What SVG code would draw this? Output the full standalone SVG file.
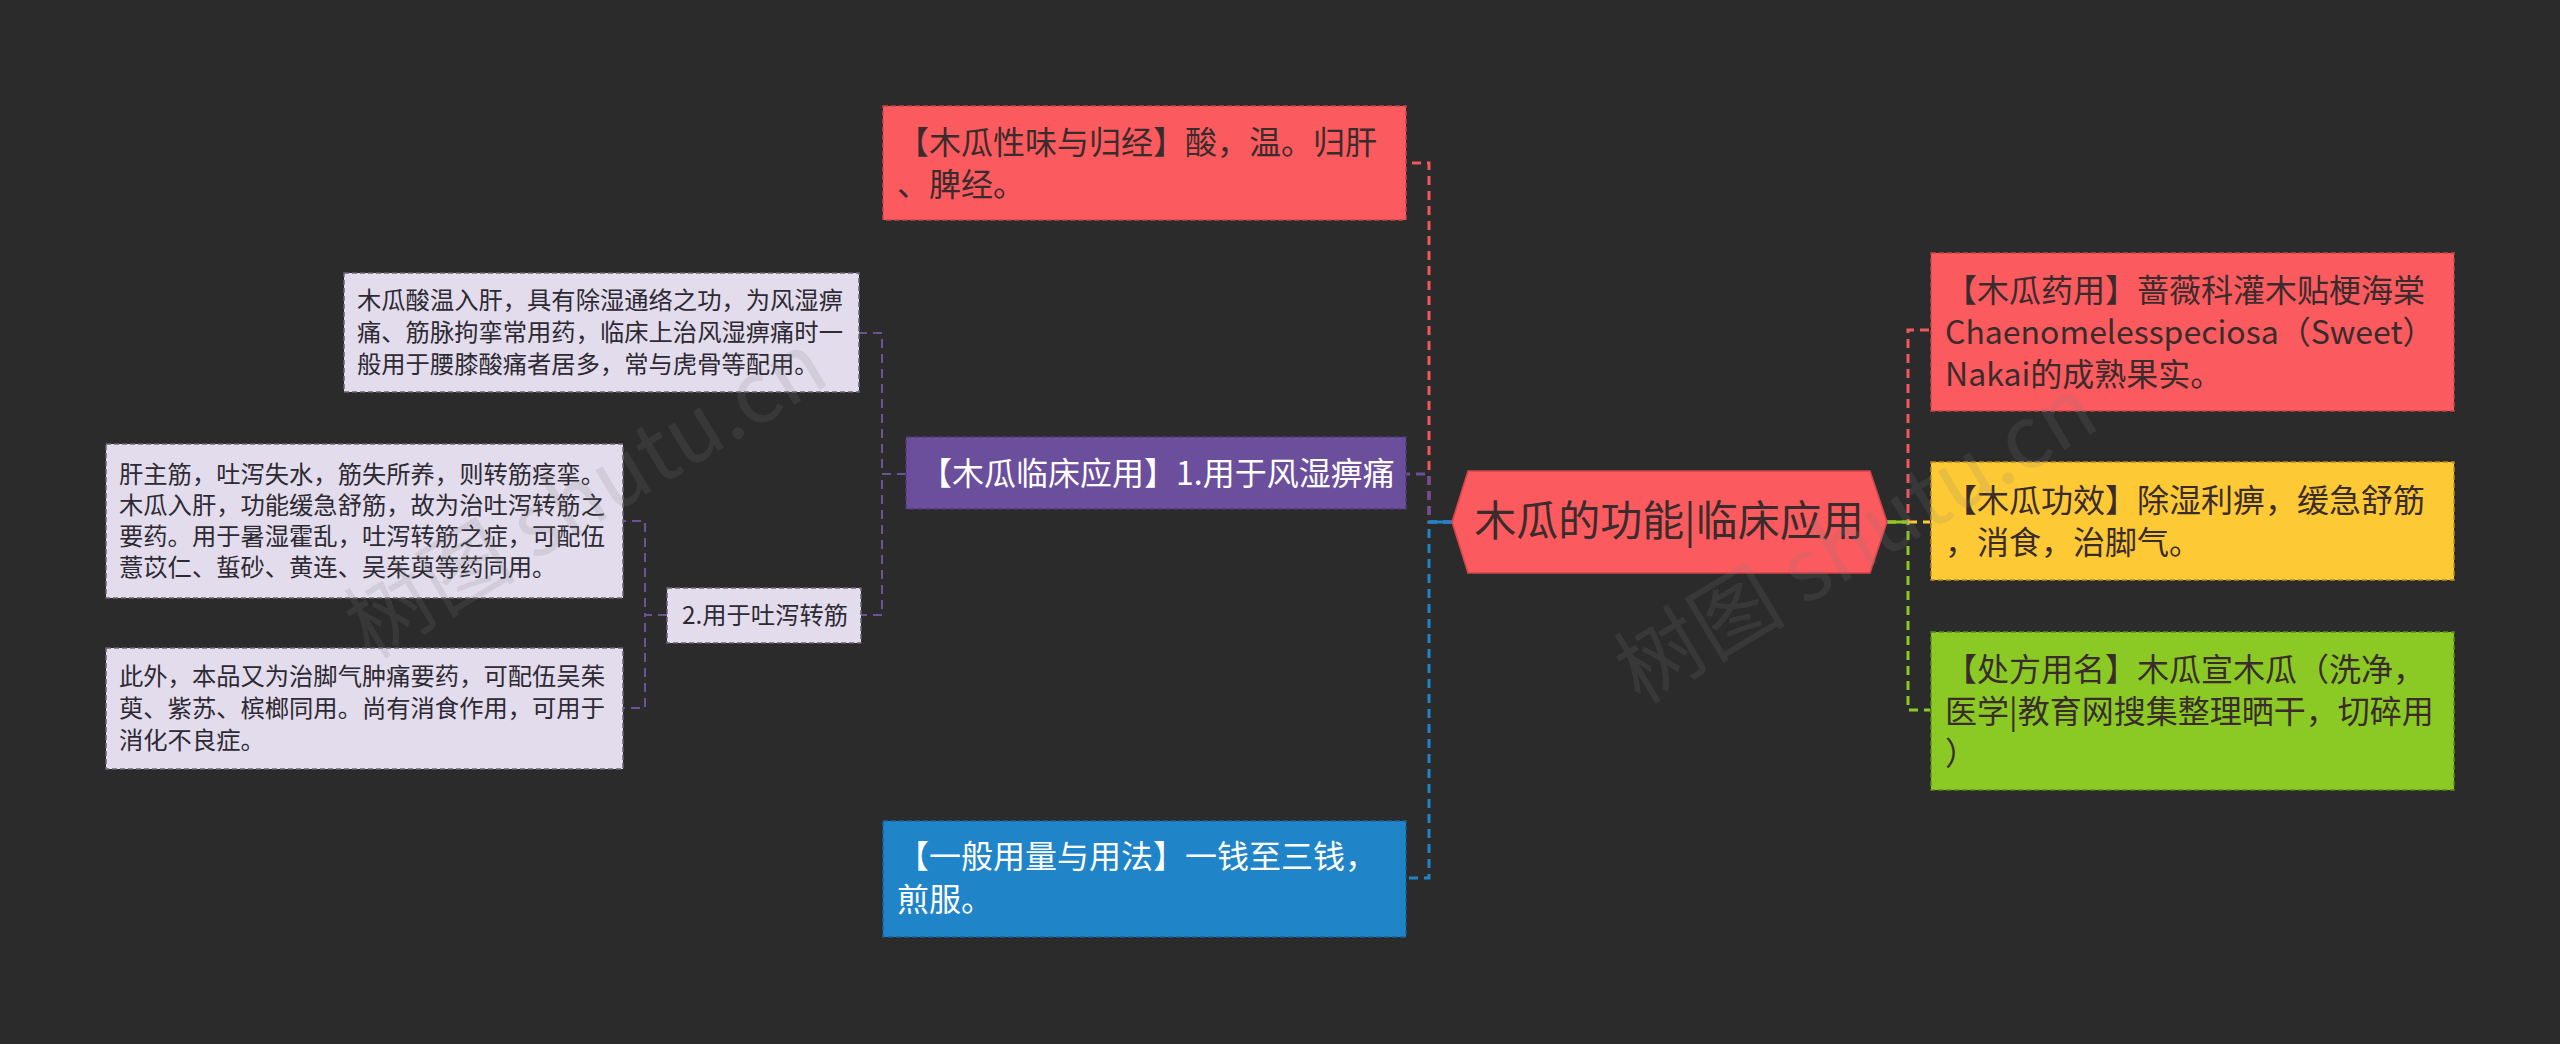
<svg xmlns="http://www.w3.org/2000/svg" width="2560" height="1044" viewBox="0 0 2560 1044">
<style>
text{font-family:"Noto Sans CJK SC","Noto Sans",sans-serif;}
.main{font-size:32px;}
.sub{font-size:24.3px;fill:#2e2a33;}
.dark{fill:#3a2c2c;}
.white{fill:#ffffff;}
.box{stroke-width:1.5;stroke-dasharray:5 3;}
.lt{fill:#e2dcec;stroke:#6a6470;}
.conn{fill:none;stroke-width:3;stroke-dasharray:9 6;}
.conn2{fill:none;stroke-width:2;stroke-dasharray:9 6;stroke:#6b5496;}
.wm{font-size:86px;fill:#808080;opacity:0.16;}
</style>
<rect width="2560" height="1044" fill="#2b2b2b"/>

<g id="connectors">
  <path class="conn" stroke="#f2575c" d="M1452 522 H1429 V163 H1406"/>
  <path class="conn" stroke="#6b4f9c" d="M1452 522 H1429 V474 H1406"/>
  <path class="conn" stroke="#1f84c8" d="M1452 522 H1429 V878 H1406"/>
  <line x1="1429" y1="522" x2="1452" y2="522" stroke="#1f84c8" stroke-width="3"/>
  <path class="conn" stroke="#f2575c" d="M1887 522 H1908 V330 H1930"/>
  <path class="conn" stroke="#8bc924" d="M1887 522 H1908 V710 H1930"/>
  <path class="conn" stroke="#fdc934" d="M1908 522 H1930"/>
  <line x1="1887" y1="522" x2="1908" y2="522" stroke="#8bc924" stroke-width="3"/>
  <path class="conn2" d="M906 474 H882 V333 H859"/>
  <path class="conn2" d="M906 474 H882 V615 H861"/>
  <path class="conn2" d="M667 615 H645 V521 H623"/>
  <path class="conn2" d="M667 615 H645 V708 H623"/>
</g>

<g id="center">
  <polygon points="1452,522 1468,471 1870,471 1887,522 1870,573 1468,573" fill="#fb5a5e" stroke="#d2464b" stroke-width="1.5"/>
  <text x="1669" y="536" text-anchor="middle" font-size="42" class="dark">木瓜的功能|临床应用</text>
</g>

<g id="node-xingwei">
  <rect class="box" x="883" y="106" width="523" height="114" fill="#fb5a5e" stroke="#c9434a"/>
  <text class="main dark" x="897" y="154">【木瓜性味与归经】酸，温。归肝</text>
  <text class="main dark" x="897" y="196">、脾经。</text>
</g>

<g id="node-linchuang">
  <rect class="box" x="906" y="437" width="500" height="72" fill="#6b4f9c" stroke="#4f3a78"/>
  <text class="main white" x="920" y="485">【木瓜临床应用】1.用于风湿痹痛</text>
</g>

<g id="node-yongliang">
  <rect class="box" x="883" y="821" width="523" height="116" fill="#1f84c8" stroke="#16639a"/>
  <text class="main white" x="897" y="868">【一般用量与用法】一钱至三钱，</text>
  <text class="main white" x="897" y="911">煎服。</text>
</g>

<g id="node-fengshi">
  <rect class="box lt" x="344" y="273" width="515" height="119"/>
  <text class="sub" x="357" y="309">木瓜酸温入肝，具有除湿通络之功，为风湿痹</text>
  <text class="sub" x="357" y="341">痛、筋脉拘挛常用药，临床上治风湿痹痛时一</text>
  <text class="sub" x="357" y="373">般用于腰膝酸痛者居多，常与虎骨等配用。</text>
</g>

<g id="node-tuxie">
  <rect class="box lt" x="667" y="588" width="194" height="55"/>
  <text class="sub" x="682" y="624">2.用于吐泻转筋</text>
</g>

<g id="node-ganzhujin">
  <rect class="box lt" x="106" y="444" width="517" height="154"/>
  <text class="sub" x="119" y="483">肝主筋，吐泻失水，筋失所养，则转筋痉挛。</text>
  <text class="sub" x="119" y="514">木瓜入肝，功能缓急舒筋，故为治吐泻转筋之</text>
  <text class="sub" x="119" y="545">要药。用于暑湿霍乱，吐泻转筋之症，可配伍</text>
  <text class="sub" x="119" y="576">薏苡仁、蜇砂、黄连、吴茱萸等药同用。</text>
</g>

<g id="node-ciwai">
  <rect class="box lt" x="106" y="648" width="517" height="121"/>
  <text class="sub" x="119" y="685">此外，本品又为治脚气肿痛要药，可配伍吴茱</text>
  <text class="sub" x="119" y="717">萸、紫苏、槟榔同用。尚有消食作用，可用于</text>
  <text class="sub" x="119" y="749">消化不良症。</text>
</g>

<g id="node-yaoyong">
  <rect class="box" x="1931" y="253" width="523" height="158" fill="#fb5a5e" stroke="#c9434a"/>
  <text class="main dark" x="1945" y="302">【木瓜药用】蔷薇科灌木贴梗海棠</text>
  <text class="main dark" x="1945" y="344">Chaenomelesspeciosa（Sweet）</text>
  <text class="main dark" x="1945" y="386">Nakai的成熟果实。</text>
</g>

<g id="node-gongxiao">
  <rect class="box" x="1931" y="462" width="523" height="118" fill="#fdc934" stroke="#b88f1c"/>
  <text class="main dark" x="1945" y="512">【木瓜功效】除湿利痹，缓急舒筋</text>
  <text class="main dark" x="1945" y="554">，消食，治脚气。</text>
</g>

<g id="node-chufang">
  <rect class="box" x="1931" y="632" width="523" height="158" fill="#8bc924" stroke="#5f8c17"/>
  <text class="main dark" x="1945" y="681">【处方用名】木瓜宣木瓜（洗净，</text>
  <text class="main dark" x="1945" y="723">医学|教育网搜集整理晒干，切碎用</text>
  <text class="main dark" x="1945" y="765">）</text>
</g>

<g id="watermarks">
  <text class="wm" transform="translate(370,660) rotate(-31)">树图 shutu.cn</text>
  <text class="wm" transform="translate(1640,705) rotate(-31)">树图 shutu.cn</text>
</g>
</svg>
